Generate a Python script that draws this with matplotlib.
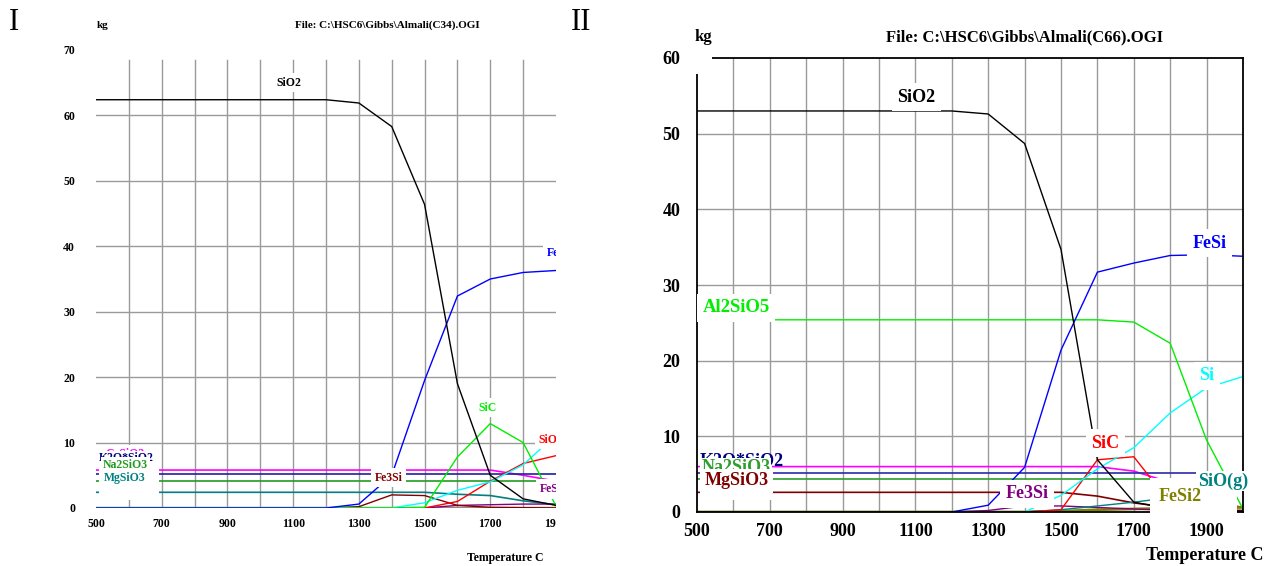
import numpy as np
import matplotlib
matplotlib.use("Agg")
import matplotlib.pyplot as plt
from matplotlib.patches import Rectangle
from matplotlib.transforms import Bbox, TransformedBbox

# ---- panel I (C34) ----
temps_1 = [500, 600, 700, 800, 900, 1000, 1100, 1200, 1300, 1400, 1500, 1600, 1700, 1800, 1900]
sio2_1 = [62.4, 62.4, 62.4, 62.4, 62.4, 62.4, 62.4, 62.4, 61.9, 58.3, 46.4, 19.0, 5.0, 1.4, 0.4]
fesi_1 = [0, 0, 0, 0, 0, 0, 0, 0, 0.6, 5.0, 19.5, 32.4, 35.0, 36.0, 36.3]
sic_1 = [0, 0, 0, 0, 0, 0, 0, 0, 0, 0, 0.1, 7.8, 12.9, 10.0, 0.3]
si_1 = [0, 0, 0, 0, 0, 0, 0, 0, 0, 0, 0.8, 2.7, 4.0, 6.6, 11.2]
siog_1 = [0, 0, 0, 0, 0, 0, 0, 0, 0, 0, 0, 1.0, 4.1, 6.8, 8.0]
fe3si_1 = [0, 0, 0, 0, 0, 0, 0, 0, 0.2, 2.0, 1.9, 0.4, 0.1, 0.05, 0]
fesi2_1 = [0, 0, 0, 0, 0, 0, 0, 0, 0, 0, 0, 0.4, 0.5, 0.6, 0.6]
casio3_1 = [5.8, 5.8, 5.8, 5.8, 5.8, 5.8, 5.8, 5.8, 5.8, 5.8, 5.8, 5.8, 5.8, 5.0, 4.1]
k2sio3_1 = [5.2] * 15
na2sio3_1 = [4.2] * 15
mgsio3_1 = [2.4, 2.4, 2.4, 2.4, 2.4, 2.4, 2.4, 2.4, 2.4, 2.4, 2.4, 2.1, 1.9, 1.1, 0.5]
zero_1 = [0] * 15

# ---- panel II (C66) ----
temps_2 = [500, 600, 700, 800, 900, 1000, 1100, 1200, 1300, 1400, 1500, 1600, 1700, 1800, 1900, 2000]
sio2_2 = [53.0, 53.0, 53.0, 53.0, 53.0, 53.0, 53.0, 53.0, 52.6, 48.7, 34.7, 6.9, 1.3, 0.4, 0.2, 0.1]
fesi_2 = [0, 0, 0, 0, 0, 0, 0, 0, 0.9, 5.9, 21.4, 31.7, 32.9, 33.9, 34.0, 33.8]
al2sio5_2 = [25.4, 25.4, 25.4, 25.4, 25.4, 25.4, 25.4, 25.4, 25.4, 25.4, 25.4, 25.4, 25.1, 22.3, 9.5, 0.4]
si_2 = [0, 0, 0, 0, 0, 0, 0, 0, 0, 0, 2.2, 5.7, 8.5, 13.1, 16.4, 17.9]
sic_2 = [0, 0, 0, 0, 0, 0, 0, 0, 0, 0, 0.3, 6.9, 7.3, 1.2, 0.1, 0]
siog_2 = [0, 0, 0, 0, 0, 0, 0, 0, 0, 0, 0.3, 0.8, 1.3, 1.9, 2.6, 3.2]
fesi2_2 = [0, 0, 0, 0, 0, 0, 0, 0, 0, 0, 0.1, 0.3, 0.4, 0.5, 0.6, 0.6]
fe3si_2 = [0, 0, 0, 0, 0, 0, 0, 0, 0.2, 0.8, 0.8, 0.6, 0.4, 0.2, 0.1, 0.1]
casio3_2 = [6.0, 6.0, 6.0, 6.0, 6.0, 6.0, 6.0, 6.0, 6.0, 6.0, 6.0, 6.0, 5.4, 3.9, 1.6, 0.6]
k2sio3_2 = [5.2] * 16
na2sio3_2 = [4.3] * 16
mgsio3_2 = [2.6, 2.6, 2.6, 2.6, 2.6, 2.6, 2.6, 2.6, 2.6, 2.6, 2.6, 2.1, 1.2, 0.6, 0.3, 0.2]

SERIF = "Liberation Serif"
GRID = "#9a9a9a"


def setup_grid(ax, xmax, ymax, vtop):
    for x in range(600, int(xmax) + 1, 100):
        ax.plot([x, x], [0, vtop], color=GRID, lw=1.0, zorder=0)
    for y in range(10, ymax + 1, 10):
        ax.axhline(y, color=GRID, lw=1.0, zorder=0)


def label(ax, x, y, s, color, size, ha="center", pad=0.3, clip=False, box=True):
    bb = dict(fc="white", ec="none", pad=pad * size) if box else None
    ax.text(x, y, s, color=color, fontsize=size, fontweight="bold", family=SERIF,
            ha=ha, va="center", zorder=5, clip_on=clip, bbox=bb)


def white_box(ax, x0, x1, y0, y1):
    # white label frame of the original program, hides lines behind the labels
    ax.add_patch(Rectangle((x0, y0), x1 - x0, y1 - y0, fc="white", ec="none",
                           clip_on=False, zorder=4))


fig = plt.figure(figsize=(12.77, 5.66), dpi=100)

# ---------------- panel I ----------------
ax1 = fig.add_axes([96 / 1277, 1 - 508 / 566, 460 / 1277, 458 / 566])
ax1.set_xlim(500, 1880)
ax1.set_ylim(0, 70)
setup_grid(ax1, 1880, 60, 68.5)
for s in ["top", "right", "left", "bottom"]:
    ax1.spines[s].set_visible(False)

ax1.plot(temps_1, zero_1, color="#a08672", lw=2.5, zorder=2)
ax1.plot(temps_1, casio3_1, color="#ff00ff", lw=1.2, zorder=2)
ax1.plot(temps_1, k2sio3_1, color="#2020a0", lw=1.2, zorder=2)
ax1.plot(temps_1, na2sio3_1, color="#239b23", lw=1.2, zorder=2)
ax1.plot(temps_1, mgsio3_1, color="#008080", lw=1.2, zorder=2)
ax1.plot(temps_1, fesi2_1, color="#800080", lw=1.0, zorder=2)
ax1.plot(temps_1, fe3si_1, color="#800000", lw=1.0, zorder=2)
ax1.plot(temps_1, siog_1, color="#ff0000", lw=1.0, zorder=2)
ax1.plot(temps_1, si_1, color="#00ffff", lw=1.0, zorder=2)
ax1.plot(temps_1, sic_1, color="#00ee00", lw=1.0, zorder=2)
ax1.plot(temps_1, fesi_1, color="#0000ff", lw=1.0, zorder=2)
ax1.plot(temps_1, sio2_1, color="black", lw=1.0, zorder=2)

ax1.set_xticks(range(500, 1901, 200))
ax1.set_yticks(range(0, 71, 10))
ax1.tick_params(length=0, labelsize=8.5, pad=7)
ax1.tick_params(axis="y", pad=15)
clip1 = TransformedBbox(Bbox([[0, 0], [556 / 1277, 1]]), fig.transFigure)
for t in ax1.get_xticklabels() + ax1.get_yticklabels():
    t.set_family(SERIF)
    t.set_fontweight("bold")
for t in ax1.get_xticklabels():
    t.set_clip_box(clip1)
    t.set_clip_on(True)

s1 = 8.5
white_box(ax1, 510, 692, 1.2, 9.6)
label(ax1, 1088, 65.0, "SiO2", "black", s1)
label(ax1, 1872, 38.9, "FeSi", "#0000ff", s1, ha="left", clip=True)
label(ax1, 1691, 15.3, "SiC", "#00ee00", s1)
label(ax1, 1846, 10.4, "SiO(g)", "#ff0000", s1, ha="left", clip=True)
label(ax1, 1850, 2.9, "FeSi2", "#800080", s1, ha="left", clip=True)
label(ax1, 1391, 4.6, "Fe3Si", "#800000", s1)
label(ax1, 588, 8.2, "CaSiO3", "#ff00ff", s1, box=False)
label(ax1, 593, 7.6, "K2O*SiO2", "#000080", s1, pad=0.1)
label(ax1, 590, 6.6, "Na2SiO3", "#239b23", s1, pad=0.15)
label(ax1, 586, 4.6, "MgSiO3", "#008080", s1, pad=0.2)

fig.text(97 / 1277, 1 - 25 / 566, "kg", family=SERIF, fontweight="bold", fontsize=8,
         ha="left", va="center")
fig.text(387 / 1277, 1 - 25 / 566, r"File: C:\HSC6\Gibbs\Almali(C34).OGI", family=SERIF,
         fontweight="bold", fontsize=8, ha="center", va="center")
fig.text(505 / 1277, 1 - 558 / 566, "Temperature C", family=SERIF, fontweight="bold",
         fontsize=8.5, ha="center", va="center")
fig.text(14 / 1277, 1 - 22 / 566, "I", family=SERIF, fontsize=22, ha="center", va="center")

# ---------------- panel II ----------------
ax2 = fig.add_axes([697 / 1277, 1 - 512 / 566, 546 / 1277, 454 / 566])
ax2.set_xlim(500, 2000)
ax2.set_ylim(0, 60)
setup_grid(ax2, 1900, 50, 60)
for s in ax2.spines.values():
    s.set_color("black")
    s.set_linewidth(1.3)

ax2.plot(temps_2, casio3_2, color="#ff00ff", lw=1.2, zorder=2)
ax2.plot(temps_2, k2sio3_2, color="#2a2aa8", lw=1.2, zorder=2)
ax2.plot(temps_2, na2sio3_2, color="#2e9e2e", lw=1.2, zorder=2)
ax2.plot(temps_2, mgsio3_2, color="#800000", lw=1.2, zorder=2)
ax2.plot(temps_2, fesi2_2, color="#808000", lw=2.0, zorder=2)
ax2.plot(temps_2, fe3si_2, color="#800080", lw=1.0, zorder=2)
ax2.plot(temps_2, siog_2, color="#008080", lw=1.0, zorder=2)
ax2.plot(temps_2, sic_2, color="#ff0000", lw=1.0, zorder=2)
ax2.plot(temps_2, si_2, color="#00ffff", lw=1.0, zorder=2)
ax2.plot(temps_2, al2sio5_2, color="#00ee00", lw=1.0, zorder=2)
ax2.plot(temps_2, fesi_2, color="#0000ff", lw=1.0, zorder=2)
ax2.plot(temps_2, sio2_2, color="black", lw=1.0, zorder=2)

ax2.set_xticks(range(500, 1901, 200))
ax2.set_yticks(range(0, 61, 10))
ax2.tick_params(length=0, labelsize=13, pad=8)
ax2.tick_params(axis="y", pad=12)
for t in ax2.get_xticklabels() + ax2.get_yticklabels():
    t.set_family(SERIF)
    t.set_fontweight("bold")

# white box behind the "60" label hides the frame corner
ax2.add_patch(Rectangle((-0.02, 0.965), 0.047, 0.05, transform=ax2.transAxes,
                        fc="white", ec="none", clip_on=False, zorder=4))
white_box(ax2, 508, 706, 1.6, 7.6)
white_box(ax2, 1744, 1984, -0.4, 4.45)

s2 = 13
label(ax2, 1102, 54.8, "SiO2", "black", s2)
label(ax2, 1909, 35.5, "FeSi", "#0000ff", s2)
label(ax2, 607, 27.0, "Al2SiO5", "#00ee00", 13.5, pad=0.3)
label(ax2, 1901, 18.0, "Si", "#00ffff", s2)
label(ax2, 1621, 9.1, "SiC", "#ff0000", s2)
label(ax2, 1945, 4.1, "SiO(g)", "#008080", s2, pad=0.1)
label(ax2, 1827, 2.1, "FeSi2", "#808000", s2, pad=0.1)
label(ax2, 1407, 2.4, "Fe3Si", "#800080", s2)
label(ax2, 622, 6.7, "K2O*SiO2", "#000080", s2, box=False)
label(ax2, 607, 5.9, "Na2SiO3", "#2e9e2e", s2, pad=0.05)
label(ax2, 610, 4.1, "MgSiO3", "#800000", s2, pad=0.22)

fig.text(703 / 1277, 1 - 37 / 566, "kg", family=SERIF, fontweight="bold", fontsize=12,
         ha="center", va="center")
fig.text(1025 / 1277, 1 - 37 / 566, r"File: C:\HSC6\Gibbs\Almali(C66).OGI", family=SERIF,
         fontweight="bold", fontsize=12, ha="center", va="center")
fig.text(1205 / 1277, 1 - 555 / 566, "Temperature C", family=SERIF, fontweight="bold",
         fontsize=13, ha="center", va="center")
fig.text(581 / 1277, 1 - 22 / 566, "II", family=SERIF, fontsize=22, ha="center", va="center")

fig.savefig("out.png", dpi=100)
